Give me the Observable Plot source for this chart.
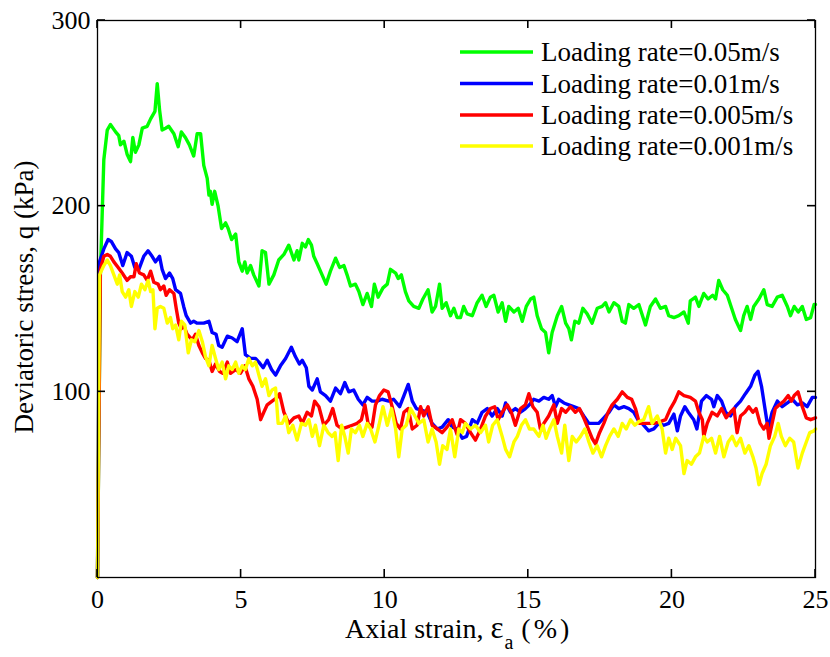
<!DOCTYPE html>
<html><head><meta charset="utf-8">
<script src="https://cdn.jsdelivr.net/npm/d3@7"></script>
<script src="https://cdn.jsdelivr.net/npm/@observablehq/plot@0.6"></script>
<style>body{margin:0;background:#fff}</style>
</head><body><div id="chart"></div>
<script>
const seriesLabels = ["Loading rate=0.05m/s", "Loading rate=0.01m/s", "Loading rate=0.005m/s", "Loading rate=0.001m/s"];
const seriesColors = ["#00ff00", "#0000ff", "#ff0000", "#ffff00"];
const xTicks = [0, 5, 10, 15, 20, 25];
const yTicks = [100, 200, 300];

// [axial strain (%), deviatoric stress q (kPa)]
const rate005 = [[0,0],[0.10,163],[0.22,225],[0.34,241],[0.45,244],[0.63,240],[0.74,238],[0.80,233],[0.92,235],[1.03,228],[1.15,224],[1.23,237],[1.32,229],[1.44,233],[1.56,242],[1.73,243],[1.85,247],[2.00,251],[2.08,266],[2.16,252],[2.25,241],[2.37,242],[2.48,243],[2.66,239],[2.81,232],[2.92,240],[3.06,237],[3.20,233],[3.35,227],[3.47,239],[3.59,239],[3.70,222],[3.82,215],[3.88,206],[3.93,208],[3.99,201],[4.08,208],[4.20,200],[4.32,188],[4.46,191],[4.55,188],[4.67,182],[4.81,185],[4.92,170],[5.04,165],[5.13,170],[5.21,164],[5.33,168],[5.44,163],[5.62,157],[5.73,176],[5.85,175],[5.97,158],[6.14,163],[6.31,171],[6.49,174],[6.66,179],[6.84,171],[6.95,176],[7.01,171],[7.13,180],[7.24,178],[7.34,182],[7.45,179],[7.53,173],[7.65,169],[7.82,163],[7.96,158],[8.11,165],[8.29,172],[8.43,167],[8.58,168],[8.69,163],[8.81,157],[8.98,158],[9.10,154],[9.24,147],[9.39,153],[9.54,146],[9.64,158],[9.77,151],[9.94,156],[10.09,158],[10.20,166],[10.38,164],[10.47,161],[10.58,163],[10.72,154],[10.84,149],[11.01,146],[11.19,145],[11.33,150],[11.51,155],[11.65,143],[11.77,146],[11.91,158],[12.00,145],[12.14,148],[12.29,141],[12.41,145],[12.52,140],[12.64,140],[12.75,146],[12.87,142],[13.05,141],[13.22,148],[13.39,152],[13.53,146],[13.68,151],[13.80,152],[13.95,143],[14.09,148],[14.21,138],[14.32,146],[14.50,143],[14.65,145],[14.79,138],[14.93,146],[15.08,150],[15.19,151],[15.31,141],[15.46,134],[15.60,132],[15.71,121],[15.83,132],[16.01,141],[16.16,146],[16.30,137],[16.41,134],[16.50,128],[16.62,138],[16.76,137],[16.90,145],[17.05,142],[17.22,137],[17.40,145],[17.57,146],[17.69,148],[17.81,143],[17.98,148],[18.15,146],[18.27,138],[18.38,137],[18.50,147],[18.67,145],[18.85,147],[19.08,136],[19.25,146],[19.43,150],[19.60,145],[19.78,146],[19.89,141],[20.07,140],[20.24,141],[20.42,143],[20.57,137],[20.64,149],[20.82,151],[20.94,146],[21.11,153],[21.26,150],[21.42,152],[21.52,150],[21.63,160],[21.77,155],[21.93,152],[22.08,145],[22.21,139],[22.39,133],[22.50,141],[22.62,146],[22.74,139],[22.85,146],[23.03,150],[23.20,155],[23.32,147],[23.49,146],[23.67,151],[23.84,152],[24.02,146],[24.13,141],[24.26,146],[24.40,143],[24.54,146],[24.68,139],[24.83,140],[24.95,147],[25,147]];

const rate001 = [[0,0],[0.07,170],[0.22,177],[0.37,182],[0.48,181],[0.63,177],[0.74,175],[0.88,168],[1.03,175],[1.18,173],[1.30,167],[1.44,166],[1.61,173],[1.76,176],[1.90,173],[2.02,170],[2.16,173],[2.25,166],[2.37,161],[2.51,164],[2.62,161],[2.72,155],[2.89,153],[3.00,146],[3.09,141],[3.24,137],[3.35,138],[3.47,137],[3.70,137],[3.88,138],[3.99,132],[4.13,131],[4.22,125],[4.34,124],[4.52,130],[4.69,129],[4.86,127],[5.04,134],[5.15,120],[5.33,118],[5.50,118],[5.62,116],[5.77,113],[5.91,117],[6.06,112],[6.20,109],[6.37,114],[6.55,118],[6.75,124],[6.89,119],[7.03,115],[7.13,117],[7.27,113],[7.36,103],[7.48,101],[7.65,107],[7.76,100],[7.94,98],[8.11,95],[8.29,102],[8.46,99],[8.61,105],[8.75,100],[8.92,101],[9.08,96],[9.24,93],[9.39,97],[9.56,95],[9.74,95],[9.91,96],[10.14,95],[10.31,96],[10.52,92],[10.67,98],[10.82,104],[10.96,95],[11.10,91],[11.31,90],[11.48,89],[11.65,83],[11.83,80],[12.00,81],[12.21,85],[12.35,81],[12.52,80],[12.70,75],[12.85,76],[13.05,85],[13.22,83],[13.39,89],[13.57,91],[13.74,87],[13.92,91],[14.09,87],[14.21,94],[14.38,89],[14.55,91],[14.73,89],[14.90,91],[15.04,93],[15.19,96],[15.37,95],[15.54,97],[15.71,96],[15.83,98],[15.95,92],[16.06,96],[16.24,94],[16.41,93],[16.58,92],[16.76,91],[16.93,87],[17.11,83],[17.28,83],[17.45,83],[17.63,86],[17.81,89],[17.98,93],[18.15,91],[18.33,92],[18.50,91],[18.67,89],[18.85,84],[18.96,83],[19.19,79],[19.37,80],[19.54,83],[19.72,82],[19.89,83],[20.07,88],[20.19,79],[20.30,87],[20.45,92],[20.57,89],[20.76,85],[20.87,80],[21.03,95],[21.20,98],[21.38,96],[21.46,92],[21.58,98],[21.73,95],[21.87,89],[22.04,87],[22.21,92],[22.39,95],[22.56,99],[22.74,103],[22.89,109],[23.00,111],[23.12,103],[23.24,91],[23.35,80],[23.49,89],[23.67,95],[23.84,92],[24.02,94],[24.19,96],[24.37,93],[24.54,94],[24.71,92],[24.89,97],[25,97]];

const rate0005 = [[0,0],[0.10,166],[0.22,173],[0.34,174],[0.45,173],[0.57,170],[0.72,167],[0.86,164],[1.03,160],[1.15,162],[1.27,162],[1.35,169],[1.46,164],[1.61,163],[1.73,160],[1.85,165],[1.96,159],[2.11,158],[2.19,155],[2.31,157],[2.39,152],[2.51,155],[2.66,153],[2.74,145],[2.83,137],[2.92,134],[3.00,136],[3.12,131],[3.30,128],[3.41,131],[3.53,125],[3.65,121],[3.76,118],[3.88,117],[3.99,111],[4.11,115],[4.25,111],[4.36,110],[4.52,116],[4.63,110],[4.81,112],[4.98,110],[5.13,114],[5.27,107],[5.41,103],[5.56,96],[5.68,85],[5.79,89],[5.91,93],[6.08,95],[6.26,97],[6.34,99],[6.49,89],[6.66,83],[6.84,86],[7.01,87],[7.13,83],[7.30,89],[7.45,87],[7.56,95],[7.71,92],[7.88,82],[8.05,85],[8.19,91],[8.34,82],[8.51,80],[8.69,81],[8.87,82],[9.04,83],[9.19,85],[9.31,93],[9.42,83],[9.56,81],[9.68,93],[9.82,98],[9.97,101],[10.12,100],[10.26,92],[10.40,83],[10.55,80],[10.67,89],[10.82,91],[10.96,80],[11.13,82],[11.25,92],[11.36,87],[11.51,92],[11.65,82],[11.83,80],[12.00,78],[12.17,81],[12.35,85],[12.52,77],[12.64,85],[12.81,83],[12.99,78],[13.16,74],[13.34,80],[13.51,87],[13.68,91],[13.83,92],[13.95,85],[14.09,89],[14.27,93],[14.41,89],[14.55,82],[14.73,91],[14.90,93],[15.02,99],[15.16,92],[15.31,89],[15.42,80],[15.54,83],[15.71,87],[15.89,93],[16.01,83],[16.16,91],[16.30,89],[16.47,92],[16.64,89],[16.78,91],[16.93,86],[17.09,80],[17.22,75],[17.34,72],[17.48,78],[17.63,83],[17.78,89],[17.92,93],[18.10,96],[18.27,100],[18.45,97],[18.60,96],[18.73,91],[18.87,83],[19.08,83],[19.37,83],[19.60,84],[19.78,85],[19.95,91],[20.10,95],[20.24,100],[20.42,98],[20.64,97],[20.82,95],[20.94,89],[21.06,85],[21.11,76],[21.23,83],[21.40,89],[21.58,87],[21.73,91],[21.89,86],[22.04,89],[22.16,91],[22.27,78],[22.39,87],[22.54,89],[22.68,92],[22.82,89],[22.93,91],[23.07,83],[23.20,80],[23.32,83],[23.38,75],[23.49,83],[23.60,91],[23.74,93],[23.90,95],[24.05,98],[24.16,95],[24.26,98],[24.39,100],[24.54,92],[24.68,86],[24.83,85],[25,86]];

const rate0001 = [[0,0],[0.07,163],[0.22,168],[0.34,171],[0.45,168],[0.57,163],[0.69,158],[0.77,163],[0.86,154],[0.98,151],[1.09,155],[1.18,146],[1.30,154],[1.42,151],[1.53,158],[1.65,155],[1.76,160],[1.85,154],[1.93,155],[2.00,134],[2.08,145],[2.19,146],[2.31,145],[2.43,137],[2.54,140],[2.62,134],[2.72,136],[2.83,128],[2.92,138],[3.04,136],[3.16,121],[3.27,128],[3.39,127],[3.53,133],[3.65,127],[3.76,119],[3.88,114],[3.99,125],[4.11,118],[4.22,112],[4.34,116],[4.46,107],[4.57,114],[4.69,112],[4.81,116],[4.92,110],[5.04,114],[5.15,112],[5.27,118],[5.39,114],[5.50,116],[5.62,109],[5.73,103],[5.85,107],[5.97,98],[6.08,101],[6.20,102],[6.29,83],[6.43,83],[6.55,87],[6.66,78],[6.80,82],[6.95,74],[7.10,83],[7.24,82],[7.36,85],[7.48,76],[7.59,82],[7.73,71],[7.88,82],[8.03,78],[8.17,76],[8.27,78],[8.38,63],[8.50,82],[8.61,76],[8.73,67],[8.84,80],[8.98,78],[9.12,82],[9.24,76],[9.39,83],[9.51,80],[9.66,73],[9.80,82],[9.94,92],[10.09,82],[10.24,91],[10.38,80],[10.49,65],[10.61,80],[10.75,82],[10.90,91],[11.05,87],[11.19,83],[11.36,85],[11.51,73],[11.65,80],[11.79,73],[11.91,61],[12.02,71],[12.17,69],[12.29,80],[12.44,65],[12.58,80],[12.70,78],[12.81,83],[12.99,80],[13.16,82],[13.34,78],[13.51,82],[13.62,73],[13.76,82],[13.92,85],[14.09,76],[14.21,69],[14.35,65],[14.50,73],[14.62,76],[14.76,82],[14.90,85],[15.04,80],[15.19,80],[15.37,76],[15.51,82],[15.62,75],[15.74,80],[15.89,85],[16.01,76],[16.16,67],[16.27,82],[16.41,63],[16.53,76],[16.67,73],[16.82,76],[16.97,80],[17.11,73],[17.25,67],[17.40,71],[17.55,65],[17.69,71],[17.83,76],[17.98,80],[18.13,76],[18.27,83],[18.41,80],[18.56,85],[18.71,82],[18.85,84],[19.02,85],[19.19,92],[19.31,83],[19.49,87],[19.66,80],[19.78,67],[19.89,75],[20.01,69],[20.13,75],[20.30,71],[20.42,56],[20.53,63],[20.68,61],[20.82,65],[20.96,67],[21.11,76],[21.23,73],[21.38,75],[21.52,67],[21.66,76],[21.81,65],[21.96,73],[22.10,76],[22.24,71],[22.39,75],[22.54,67],[22.68,71],[22.82,65],[22.93,59],[23.03,50],[23.14,56],[23.28,61],[23.43,71],[23.58,76],[23.70,83],[23.81,76],[23.95,71],[24.10,75],[24.24,73],[24.39,59],[24.54,67],[24.68,73],[24.80,78],[24.95,79],[25,80]];

const seriesData = [rate005, rate001, rate0005, rate0001];
const rows = [];
seriesData.forEach((pts, i) => pts.forEach(([s, q]) => rows.push({strain: s, q, series: seriesLabels[i]})));

const FONT = "'Liberation Serif', 'Times New Roman', serif";
const W = 830, H = 657, ML = 97, MR = 15, MT = 20, MB = 80;
const TICK = 8;

const chart = Plot.plot({
  width: W, height: H,
  marginLeft: ML, marginRight: MR, marginTop: MT, marginBottom: MB,
  style: {fontFamily: FONT, fontSize: "26px", background: "white", color: "black", overflow: "visible"},
  x: {domain: [0, 25]},
  y: {domain: [0, 300]},
  color: {domain: seriesLabels, range: seriesColors},
  marks: [
    Plot.line(rows, {x: "strain", y: "q", z: "series", stroke: "series", strokeWidth: 3.4, strokeLinejoin: "round"}),
    Plot.frame({stroke: "black", strokeWidth: 1.3}),
    Plot.axisX(xTicks, {anchor: "bottom", tickSize: 0, tickPadding: 12, label: null, fontSize: 26}),
    Plot.axisY(yTicks, {anchor: "left", tickSize: 0, tickPadding: 7, label: null, fontSize: 26})
  ]
});
document.getElementById("chart").appendChild(chart);

const svg = d3.select(chart);
const sx = chart.scale("x"), sy = chart.scale("y");
const x0 = ML, x1 = W - MR, y0 = H - MB, y1 = MT;
// inward tick marks on all four sides, placed with Plot's own scales
const tg = svg.append("g").attr("stroke", "#000").attr("stroke-width", 1.6).attr("fill", "none");
xTicks.forEach(v => {
  const px = sx.apply(v);
  tg.append("path").attr("d", `M${px},${y0}V${y0 - TICK}`);
  tg.append("path").attr("d", `M${px},${y1}V${y1 + TICK}`);
});
yTicks.forEach(v => {
  const py = sy.apply(v);
  tg.append("path").attr("d", `M${x0},${py}H${x0 + TICK}`);
  tg.append("path").attr("d", `M${x1},${py}H${x1 - TICK}`);
});
// x label
const xl = svg.append("text").attr("x", 345).attr("y", 638).attr("text-anchor", "start")
  .attr("font-family", FONT).attr("font-size", 28).attr("fill", "black");
xl.append("tspan").text("Axial strain, ");
xl.append("tspan").attr("font-size", 31).text("ε");
xl.append("tspan").attr("font-size", 20).attr("dy", 11).attr("dx", 1).text("a");
xl.append("tspan").attr("dy", -11).attr("dx", 8).attr("letter-spacing", 3).text("(%)");
// y label
svg.append("text").attr("transform", "translate(33,297) rotate(-90)").attr("text-anchor", "middle")
  .attr("font-family", FONT).attr("font-size", 27).attr("fill", "black")
  .text("Deviatoric stress, q (kPa)");
// legend
const legendY = [52, 83.5, 115, 146];
const lg = svg.append("g");
seriesLabels.forEach((lab, i) => {
  lg.append("line").attr("x1", 460).attr("x2", 533).attr("y1", legendY[i]).attr("y2", legendY[i])
    .attr("stroke", seriesColors[i]).attr("stroke-width", 3.4);
  lg.append("text").attr("x", 541).attr("y", legendY[i]).attr("dy", "0.35em").attr("text-anchor", "start")
    .attr("font-family", FONT).attr("font-size", 27).attr("fill", "black").text(lab);
});
</script></body></html>
